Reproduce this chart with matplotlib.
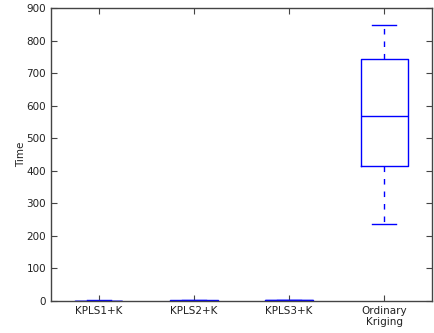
import matplotlib
matplotlib.use("Agg")
import matplotlib.pyplot as plt

labels = ["KPLS1+K", "KPLS2+K", "KPLS3+K", "Ordinary\nKriging"]
whislo = [0.5, 0.6, 0.8, 237]
q1 = [1.0, 1.2, 1.5, 415]
med = [1.2, 1.5, 1.8, 568]
q3 = [1.5, 1.8, 2.2, 742]
whishi = [2.0, 2.3, 2.8, 848]

fig = plt.figure(figsize=(4.35, 3.33), dpi=100)
ax = fig.add_axes([51/435, 1 - 301/333, 381/435, 293/333])

stats = []
for i in range(len(labels)):
    stats.append(dict(label=labels[i], whislo=whislo[i], q1=q1[i], med=med[i],
                      q3=q3[i], whishi=whishi[i], fliers=[]))

blue = "#0000ff"
ax.bxp(stats, positions=[1, 2, 3, 4], widths=0.5, showfliers=False,
       boxprops=dict(color=blue, linewidth=1),
       medianprops=dict(color=blue, linewidth=1),
       whiskerprops=dict(color=blue, linewidth=1, linestyle=(0, (4, 5))),
       capprops=dict(color=blue, linewidth=1),
       capwidths=0.25)

ax.set_xlim(0.5, 4.5)
ax.set_ylim(0, 900)
ax.set_yticks(range(0, 901, 100))
ax.set_ylabel("Time", fontsize=7.5, color="#222222", labelpad=0.5)
ax.tick_params(direction="in", top=True, right=True, labelsize=7.5,
               length=4, colors="#444444", labelcolor="#222222")
for s in ax.spines.values():
    s.set_linewidth(1)
    s.set_color("#444444")
fig.savefig("out.png", dpi=100)
